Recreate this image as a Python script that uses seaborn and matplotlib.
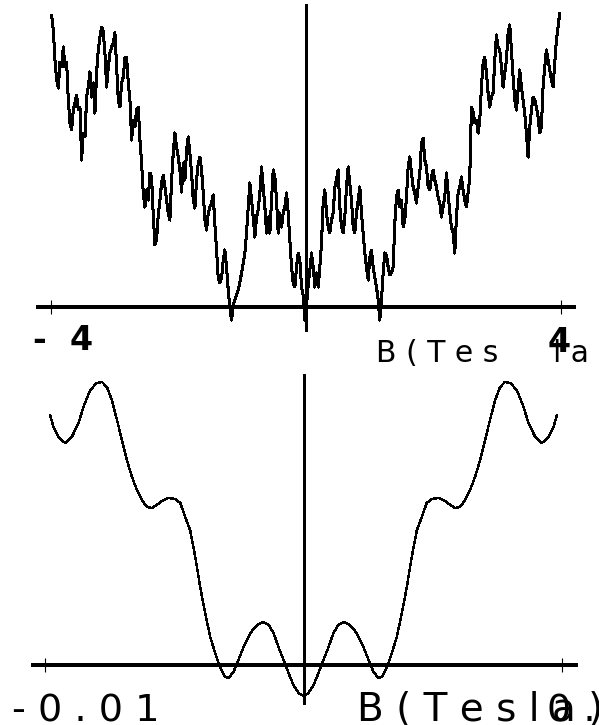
import numpy as np
import pandas as pd
import matplotlib
matplotlib.use("Agg")
import matplotlib.pyplot as plt
import seaborn as sns

# ---------------- data ----------------
# Top panel: conductance-like trace vs field B (Tesla), evenly sampled
top_B_start = -3.99
top_B_stop = 3.98
top_G = [
    292, 277, 247, 227, 219, 245, 240, 260, 240, 245,
    207, 184, 177, 197, 204, 212, 197, 200, 147, 174,
    170, 210, 220, 235, 210, 224, 194, 235, 257, 270,
    280, 275, 254, 220, 240, 254, 260, 264, 274, 240,
    207, 200, 224, 230, 249, 250, 224, 207, 167, 187,
    180, 197, 200, 167, 144, 114, 100, 117, 107, 134,
    130, 92, 62, 67, 92, 107, 124, 132, 120, 107,
    94, 87, 127, 154, 174, 160, 150, 137, 115, 144,
    127, 157, 170, 154, 134, 107, 99, 127, 144, 150,
    137, 114, 87, 77, 94, 100, 104, 112, 82, 57,
    29, 24, 29, 47, 57, 40, 17, -1, -13, 2,
    7, 12, 17, 25, 34, 44, 54, 74, 100, 124,
    107, 90, 70, 90, 97, 114, 140, 120, 100, 74,
    90, 74, 107, 137, 130, 107, 74, 94, 80, 94,
    100, 114, 94, 67, 40, 24, 20, 40, 54, 47,
    20, 12, -13, 2, 22, 37, 54, 40, 20, 34,
    20, 40, 64, 104, 117, 94, 80, 74, 87, 94,
    120, 127, 137, 100, 80, 74, 90, 120, 140, 124,
    107, 80, 74, 94, 107, 120, 94, 74, 54, 40,
    27, 50, 57, 40, 30, 20, 7, -13, 7, 34,
    54, 52, 40, 32, 34, 40, 84, 110, 117, 100,
    107, 80, 87, 110, 140, 150, 134, 120, 114, 104,
    120, 134, 164, 169, 147, 140, 120, 117, 130, 137,
    127, 120, 110, 104, 90, 100, 110, 134, 114, 94,
    80, 74, 54, 90, 114, 120, 130, 117, 107, 100,
    114, 130, 200, 195, 184, 187, 174, 187, 220, 244,
    250, 234, 214, 200, 210, 214, 247, 272, 260, 257,
    240, 220, 234, 247, 274, 282, 257, 230, 207, 197,
    217, 237, 220, 207, 194, 174, 150, 180, 197, 210,
    207, 200, 190, 174, 180, 220, 240, 257, 247, 237,
    227, 220, 244, 267, 280, 294,
]
top_ticks = [-4, 4]
top_tick_labels = ["-  4", "4"]

# Bottom panel: smooth trace vs field B (milli-Tesla values)
bot_B_mT = [
    -9.81, -9.68, -9.49, -9.23, -8.97, -8.71, -8.52, -8.26, -8.00, -7.80,
    -7.61, -7.42, -7.22, -7.03, -6.84, -6.64, -6.45, -6.26, -6.06, -5.87,
    -5.68, -5.48, -5.23, -4.97, -4.77, -4.58, -4.39, -4.19, -4.00, -3.81,
    -3.61, -3.42, -3.22, -3.03, -2.90, -2.71, -2.52, -2.32, -2.06, -1.80,
    -1.55, -1.35, -1.16, -0.97, -0.77, -0.58, -0.39, -0.19, 0.00,
    0.19, 0.39, 0.58, 0.77, 0.97, 1.16, 1.35, 1.55, 1.80, 2.06,
    2.32, 2.52, 2.71, 2.90, 3.03, 3.22, 3.42, 3.61, 3.81, 4.00,
    4.19, 4.39, 4.58, 4.77, 4.97, 5.23, 5.48, 5.68, 5.87, 6.06,
    6.26, 6.45, 6.64, 6.84, 7.03, 7.22, 7.42, 7.61, 7.80, 8.00,
    8.26, 8.52, 8.71, 8.97, 9.23, 9.49, 9.68, 9.81,
]
bot_G = [
    250, 238, 228, 222, 228, 242, 258, 275, 282, 283,
    278, 265, 245, 225, 205, 188, 175, 165, 158, 157,
    160, 164, 167, 166, 162, 148, 135, 108, 78, 52,
    28, 12, -3, -12, -13, -7, 5, 18, 32, 40,
    43, 40, 32, 18, 5, -8, -20, -28, -31,
    -28, -20, -8, 5, 18, 32, 40, 43, 40, 32,
    18, 5, -7, -13, -12, -3, 12, 28, 52, 78,
    108, 135, 148, 162, 166, 167, 164, 160, 157, 158,
    165, 175, 188, 205, 225, 245, 265, 278, 283, 282,
    275, 258, 242, 228, 222, 228, 238, 250,
]
bot_ticks = [-0.01, 0.01]
bot_tick_labels = ["- 0 . 0 1", "0 . 0 1"]
axis_label = "B ( T e s l a )"

# ---------------- figure ----------------
sns.set_style("white")
plt.rcParams["font.family"] = ["DejaVu Sans"]
plt.rcParams["lines.antialiased"] = False

W, H = 599, 725
fig = plt.figure(figsize=(W / 100, H / 100), dpi=100)
fig.patch.set_facecolor("white")

def px_to_fig(x, y):
    return x / W, 1 - y / H

# top axes occupies pixel rows 0..340
ax1 = fig.add_axes([0, 1 - 340 / H, 1, 340 / H])
# bottom axes occupies pixel rows 360..725
ax2 = fig.add_axes([0, 0, 1, 365 / H])

top_df = pd.DataFrame({
    "B": np.linspace(top_B_start, top_B_stop, len(top_G)),
    "G": top_G,
})
bot_df = pd.DataFrame({
    "B": np.array(bot_B_mT) * 1e-3,
    "G": bot_G,
})

sns.lineplot(data=top_df, x="B", y="G", ax=ax1, color="black",
             linewidth=1.45, sort=False, estimator=None, antialiased=False)
sns.lineplot(data=bot_df, x="B", y="G", ax=ax2, color="black",
             linewidth=1.0, sort=False, estimator=None, antialiased=False)

def style_axes(ax, xlim, ylim, hbounds, vbounds, ticks):
    ax.set_xlim(*xlim)
    ax.set_ylim(*ylim)
    ax.patch.set_alpha(0)
    for s in ["top", "right"]:
        ax.spines[s].set_visible(False)
    ax.spines["bottom"].set_position(("data", 0))
    ax.spines["left"].set_position(("data", 0))
    ax.spines["bottom"].set_bounds(*hbounds)
    ax.spines["left"].set_bounds(*vbounds)
    ax.spines["bottom"].set_linewidth(1.5)
    ax.spines["left"].set_linewidth(0.9)
    for s in ["bottom", "left"]:
        ax.spines[s].set_color("black")
        ax.spines[s].set_antialiased(False)
    ax.set_xticks(ticks)
    ax.set_yticks([])
    ax.tick_params(axis="x", direction="inout", length=10, width=0.8,
                   color="black", labelbottom=False, bottom=True)
    ax.set_xlabel("")
    ax.set_ylabel("")

# top: B=0 at px 306, 63.75 px per Tesla; G=0 at px row 307
style_axes(ax1,
           xlim=((0 - 306) / 63.75, (W - 306) / 63.75),
           ylim=(307 - 340, 307 - 0),
           hbounds=((38 - 306) / 63.75, (574 - 306) / 63.75),
           vbounds=(307 - 330, 307 - 5),
           ticks=top_ticks)

# bottom: B=0 at px 303.5, 25830 px per Tesla; G=0 at px row 665
style_axes(ax2,
           xlim=((0 - 303.5) / 25830, (W - 303.5) / 25830),
           ylim=(665 - 725, 665 - 360),
           hbounds=((33 - 303.5) / 25830, (576 - 303.5) / 25830),
           vbounds=(665 - 703, 665 - 375),
           ticks=bot_ticks)

# ---------------- labels ----------------
def put(text, x, y, size, weight="normal"):
    fx, fy = px_to_fig(x, y)
    fig.text(fx, fy, text, fontsize=size, ha="left", va="baseline",
             color="black", fontweight=weight)

# top panel
put("B ( T e s", 376, 362, 21.5)
put("l a )", 553, 362, 21.5)
put(top_tick_labels[0], 33, 350, 24, "bold")
put(top_tick_labels[1], 548, 352, 24, "bold")

# bottom panel
put(axis_label, 357, 721, 28)
put(bot_tick_labels[0], 12, 721, 27.5)
put(bot_tick_labels[1], 547, 721, 27.5)

fig.savefig("out.png", dpi=100, facecolor="white")
